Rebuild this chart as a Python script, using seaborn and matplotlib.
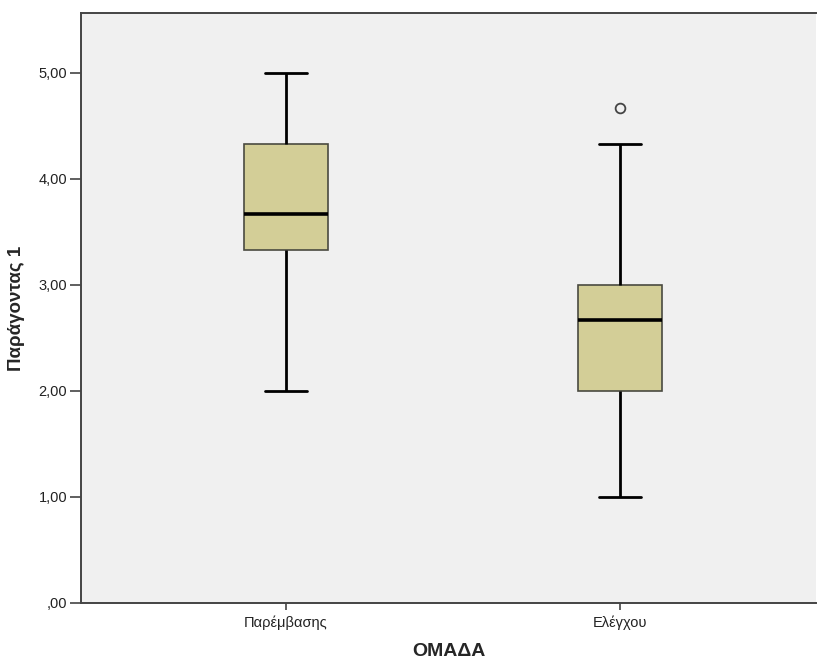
import matplotlib
matplotlib.use("Agg")
import matplotlib.pyplot as plt
import seaborn as sns
import pandas as pd
import numpy as np

groups = ["Παρέμβασης", "Ελέγχου"]
values_paremvasis = [2.0, 3.333, 3.667, 4.333, 5.0]
values_elegxou = [1.0, 2.0, 2.0, 2.0, 2.667, 3.0, 3.0, 4.333, 4.667]
y_ticks = [0, 1, 2, 3, 4, 5]
y_tick_labels = [",00", "1,00", "2,00", "3,00", "4,00", "5,00"]

df = pd.DataFrame({
    "ΟΜΑΔΑ": [groups[0]] * len(values_paremvasis) + [groups[1]] * len(values_elegxou),
    "Παράγοντας 1": values_paremvasis + values_elegxou,
})

sns.set_style("white")
plt.rcParams["font.family"] = ["Liberation Sans", "DejaVu Sans"]

fig = plt.figure(figsize=(8.17, 6.61), dpi=100)
ax = fig.add_axes([81 / 817, 1 - 603 / 661, (816 - 81) / 817, (603 - 13) / 661])
ax.set_facecolor("#F0F0F0")

sns.boxplot(
    data=df, x="ΟΜΑΔΑ", y="Παράγοντας 1", order=groups, ax=ax,
    width=0.25, whis=1.5, color="#D3CE97", saturation=1,
    boxprops=dict(facecolor="#D3CE97", edgecolor="#4A4A40", linewidth=1.2),
    medianprops=dict(color="black", linewidth=2.6),
    whiskerprops=dict(color="black", linewidth=2.0),
    capprops=dict(color="black", linewidth=2.0),
    flierprops=dict(marker="o", markersize=7, markerfacecolor="none",
                    markeredgecolor="#444444", markeredgewidth=1.3),
)

ax.set_xlim(-0.612, 1.585)
ax.set_ylim(0, 5.566)
ax.set_yticks(y_ticks)
ax.set_yticklabels(y_tick_labels)

for side in ["top", "left", "bottom"]:
    ax.spines[side].set_visible(True)
    ax.spines[side].set_color("#444444")
    ax.spines[side].set_linewidth(1.4)
ax.spines["right"].set_visible(False)

ax.tick_params(axis="y", direction="out", length=8, width=1.2, color="#444444",
               labelsize=10.5, labelcolor="#222222", left=True, pad=2)
ax.tick_params(axis="x", direction="out", length=5, width=1.2, color="#444444",
               labelsize=10.5, labelcolor="#222222", bottom=True, pad=4)

ax.set_xlabel("ΟΜΑΔΑ", fontsize=14, fontweight="bold", labelpad=9)
ax.set_ylabel("Παράγοντας 1", fontsize=13.5, fontweight="bold", labelpad=10)

fig.savefig("out.png", dpi=100)
